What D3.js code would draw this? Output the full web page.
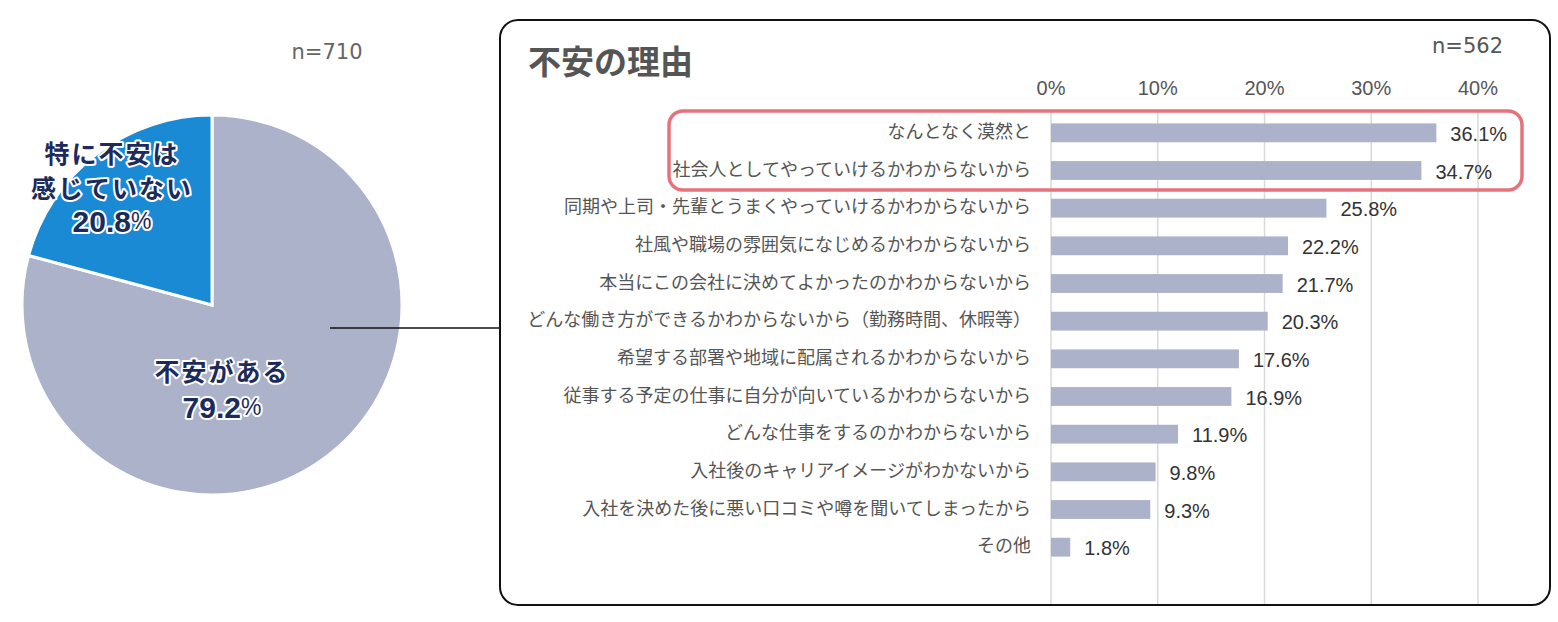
<!DOCTYPE html>
<html>
<head>
<meta charset="utf-8">
<script src="https://cdn.jsdelivr.net/npm/d3@7"></script>
<style>
  body { margin: 0; background: #fff; }
  svg { display: block; }
</style>
</head>
<body>
<div id="chart"></div>
<script>
// pie data
var pieNames = ["不安がある", "特に不安は感じていない"];
var pieValues = [79.2, 20.8];
var pieLines = [["不安がある"], ["特に不安は", "感じていない"]];
var pieN = "n=710";

// bar data
var reasons = [
  "なんとなく漠然と",
  "社会人としてやっていけるかわからないから",
  "同期や上司・先輩とうまくやっていけるかわからないから",
  "社風や職場の雰囲気になじめるかわからないから",
  "本当にこの会社に決めてよかったのかわからないから",
  "どんな働き方ができるかわからないから（勤務時間、休暇等）",
  "希望する部署や地域に配属されるかわからないから",
  "従事する予定の仕事に自分が向いているかわからないから",
  "どんな仕事をするのかわからないから",
  "入社後のキャリアイメージがわかないから",
  "入社を決めた後に悪い口コミや噂を聞いてしまったから",
  "その他"
];
var reasonValues = [36.1, 34.7, 25.8, 22.2, 21.7, 20.3, 17.6, 16.9, 11.9, 9.8, 9.3, 1.8];
var xTicks = [0, 10, 20, 30, 40];
var barN = "n=562";
var barTitle = "不安の理由";

var width = 1558, height = 622;
var jp = "'Noto Sans CJK JP', 'Noto Sans', sans-serif";
var num = "'Liberation Sans', Arial, sans-serif";

var svg = d3.select("#chart").append("svg")
  .attr("width", width)
  .attr("height", height);

////////////////////////// pie //////////////////////////
var cx = 212, cy = 305, r = 190;
var pieColors = ["#abb2c9", "#1a8ad4"];

var pie = d3.pie().sort(null).value(function(d) { return d; });
var arcs = pie(pieValues);
var arc = d3.arc().innerRadius(0).outerRadius(r);

var pg = svg.append("g").attr("transform", "translate(" + cx + "," + cy + ")");

pg.selectAll("path.slice")
  .data(arcs)
  .enter().append("path")
  .attr("class", "slice")
  .attr("d", arc)
  .style("fill", function(d, i) { return pieColors[i]; })
  .style("stroke", "#fff")
  .style("stroke-width", 3)
  .style("stroke-linejoin", "miter");

// connector line
svg.append("line")
  .attr("x1", 330).attr("y1", 328)
  .attr("x2", 501).attr("y2", 328)
  .style("stroke", "#111")
  .style("stroke-width", 1.6);

// slice labels: label x, and the centre y of each line (last one is the value)
var labelX = [10, -100];
var labelY = [[65, 102], [-153, -118, -84]];

function halo(sel) {
  sel.attr("text-anchor", "middle")
    .attr("dominant-baseline", "central")
    .style("font-weight", "bold")
    .style("fill", "#1c2b5a")
    .style("stroke", "#fff")
    .style("stroke-width", 4)
    .style("paint-order", "stroke")
    .style("stroke-linejoin", "round");
  return sel;
}

arcs.forEach(function(d, i) {
  var lines = pieLines[i];
  lines.forEach(function(t, j) {
    halo(pg.append("text"))
      .attr("x", labelX[i])
      .attr("y", labelY[i][j])
      .style("font-family", jp)
      .style("font-size", "25px")
      .style("letter-spacing", "2px")
      .text(t);
  });
  var vt = halo(pg.append("text"))
    .attr("x", labelX[i])
    .attr("y", labelY[i][lines.length])
    .style("font-family", num)
    .style("font-size", "30px");
  vt.append("tspan").text(pieValues[i].toFixed(1));
  vt.append("tspan")
    .style("font-size", "23px")
    .style("font-weight", "normal")
    .text("%");
});

svg.append("text")
  .attr("x", 327).attr("y", 52)
  .attr("text-anchor", "middle")
  .attr("dominant-baseline", "central")
  .style("font-family", "'DejaVu Sans', sans-serif")
  .style("font-size", "21px")
  .style("fill", "#666")
  .text(pieN);

////////////////////////// bar panel //////////////////////////
svg.append("rect")
  .attr("x", 500).attr("y", 20)
  .attr("width", 1050).attr("height", 585)
  .attr("rx", 18).attr("ry", 18)
  .style("fill", "#fff")
  .style("stroke", "#111")
  .style("stroke-width", 2);

svg.append("text")
  .attr("x", 528).attr("y", 60)
  .attr("dominant-baseline", "central")
  .style("font-family", jp)
  .style("font-size", "33px")
  .style("font-weight", "bold")
  .style("fill", "#555")
  .text(barTitle);

svg.append("text")
  .attr("x", 1503).attr("y", 46)
  .attr("text-anchor", "end")
  .attr("dominant-baseline", "central")
  .style("font-family", "'DejaVu Sans', sans-serif")
  .style("font-size", "21px")
  .style("fill", "#555")
  .text(barN);

var x = d3.scaleLinear().domain([0, 40]).range([1051, 1478]);
var y = d3.scaleBand().domain(reasons).range([114, 566]).paddingInner(0.5).paddingOuter(0.25);

// grid
svg.selectAll("line.grid")
  .data(xTicks)
  .enter().append("line")
  .attr("class", "grid")
  .attr("x1", function(d) { return x(d); })
  .attr("x2", function(d) { return x(d); })
  .attr("y1", 110).attr("y2", 604)
  .style("stroke", "#d9d9d9")
  .style("stroke-width", 1.5);

// axis labels
svg.selectAll("text.tick")
  .data(xTicks)
  .enter().append("text")
  .attr("class", "tick")
  .attr("x", function(d) { return x(d); })
  .attr("y", 88)
  .attr("text-anchor", "middle")
  .attr("dominant-baseline", "central")
  .style("font-family", num)
  .style("font-size", "20px")
  .style("fill", "#555")
  .text(function(d) { return d + "%"; });

// bars
svg.selectAll("rect.bar")
  .data(reasonValues)
  .enter().append("rect")
  .attr("class", "bar")
  .attr("x", x(0))
  .attr("y", function(d, i) { return y(reasons[i]); })
  .attr("width", function(d) { return x(d) - x(0); })
  .attr("height", y.bandwidth())
  .style("fill", "#abb2c9");

// category labels
svg.selectAll("text.cat")
  .data(reasons)
  .enter().append("text")
  .attr("class", "cat")
  .attr("x", 1031)
  .attr("y", function(d) { return y(d) + y.bandwidth() / 2 - 3; })
  .attr("text-anchor", "end")
  .attr("dominant-baseline", "central")
  .style("font-family", jp)
  .style("font-size", "18px")
  .style("fill", "#555")
  .text(function(d) { return d; });

// value labels
svg.selectAll("text.val")
  .data(reasonValues)
  .enter().append("text")
  .attr("class", "val")
  .attr("x", function(d) { return x(d) + 14; })
  .attr("y", function(d, i) { return y(reasons[i]) + y.bandwidth() / 2 + 1; })
  .attr("dominant-baseline", "central")
  .style("font-family", num)
  .style("font-size", "20px")
  .style("fill", "#333")
  .text(function(d) { return d.toFixed(1) + "%"; });

// highlight box round the top two
svg.append("rect")
  .attr("x", 669).attr("y", 111)
  .attr("width", 853).attr("height", 79)
  .attr("rx", 14).attr("ry", 14)
  .style("fill", "none")
  .style("stroke", "#e6737b")
  .style("stroke-width", 3.5);
</script>
</body>
</html>
